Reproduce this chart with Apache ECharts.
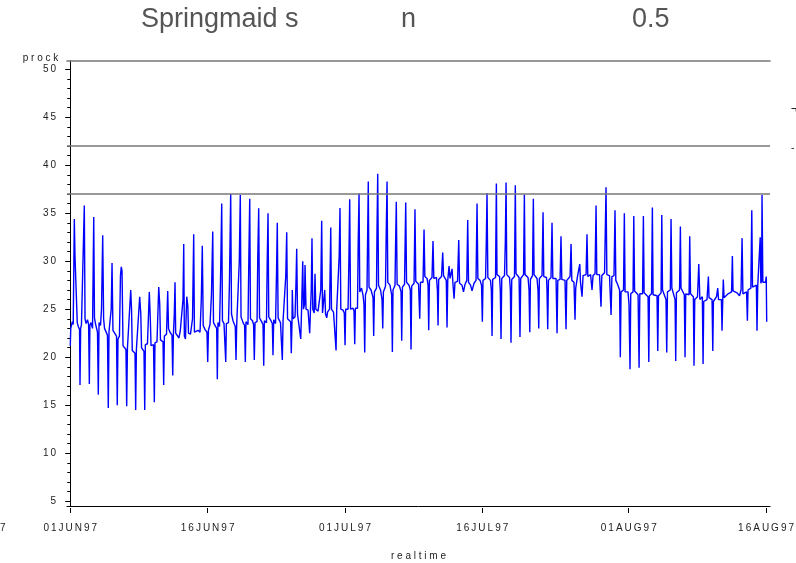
<!DOCTYPE html>
<html>
<head>
<meta charset="utf-8">
<script src="https://cdn.jsdelivr.net/npm/echarts@6/dist/echarts.min.js"></script>
<style>
  html, body { margin: 0; padding: 0; background: #ffffff; }
  #chart { width: 796px; height: 563px; }
</style>
</head>
<body>
<div id="chart"></div>
<script>
// Rock temperature record, Springmaid pier, summer 1997.
// Each point: [days since 01JUN97 00:00, prock].
const junePoints = [
  [0.00,21.2],[0.05,23.0],[0.13,23.2],[0.22,23.7],[0.32,23.4],[0.44,34.4],[0.51,30.6],[0.76,23.6],[0.87,23.2],
  [1.01,22.9],[1.06,17.1],[1.13,23.0],[1.22,23.4],[1.39,23.6],[1.53,35.8],[1.61,24.0],[1.72,23.5],[1.88,23.9],
  [2.00,23.4],[2.08,17.2],[2.14,23.3],[2.26,23.6],[2.43,23.0],[2.56,34.6],[2.64,24.1],[2.75,23.5],[2.97,22.6],
  [3.06,16.1],[3.14,23.6],[3.30,23.3],[3.41,25.0],[3.54,32.7],[3.64,24.0],[3.74,23.0],[3.90,23.2],[4.06,22.3],
  [4.15,14.7],[4.23,22.7],[4.39,22.6],[4.47,25.0],[4.56,29.8],[4.66,22.8],[4.83,23.0],[5.05,22.2],[5.13,15.0],
  [5.21,21.9],[5.37,22.2],[5.48,28.5],[5.57,29.4],[5.65,29.0],[5.76,21.2],[5.92,21.1],[6.08,20.8],[6.16,14.9],
  [6.24,20.9],[6.41,21.0],[6.60,27.0],[6.69,25.0],[6.77,20.7],[6.96,20.7],[7.07,20.4],[7.14,14.5],[7.22,20.8],
  [7.43,20.9],[7.58,26.3],[7.70,24.5],[7.78,21.0],[7.94,20.9],[8.05,20.6],[8.13,14.5],[8.20,21.3],[8.43,21.4],
  [8.63,26.8],[8.74,24.0],[8.82,21.2],[9.09,21.3],[9.18,15.3],[9.25,21.5],[9.47,21.6],[9.66,27.3],[9.77,25.5],
  [9.85,21.8],[10.13,21.6],[10.20,17.1],[10.28,22.2],[10.51,22.4],[10.64,26.9],[10.73,23.0],[10.89,22.6],
  [11.11,22.3],[11.19,18.1],[11.26,22.3],[11.36,24.5],[11.44,27.8],[11.51,22.5],[11.71,22.3],[11.87,22.0],
  [12.02,22.8],[12.31,26.0],[12.39,31.8],[12.46,22.2],[12.58,21.9],[12.72,26.3],[12.84,25.3],[12.91,22.5],
  [13.13,22.4],[13.35,24.0],[13.48,32.8],[13.56,22.6],[13.73,22.4],[13.95,22.8],[14.17,22.6],[14.31,26.0],
  [14.42,31.6],[14.52,23.3],[14.71,22.9],[14.93,22.6],[15.01,19.5],[15.09,22.8],[15.26,23.4],[15.42,26.5],
  [15.56,33.1],[15.64,23.6],[15.81,23.4],[15.99,23.0],[16.06,17.7],[16.13,23.6],[16.30,23.2],[16.41,28.0],
  [16.54,36.0],[16.62,23.8],[16.79,23.5],[16.90,23.3],[16.98,19.5],[17.05,23.5],[17.28,23.6],[17.39,28.0],
  [17.52,37.0],[17.61,24.5],[17.77,23.8],[18.02,23.2],[18.10,19.7],[18.18,23.5],[18.37,23.4],[18.46,30.0],
  [18.57,36.9],[18.65,24.2],[18.87,23.6],[19.04,23.3],[19.12,19.5],[19.19,23.7],[19.41,23.4],[19.50,30.0],
  [19.60,36.5],[19.68,24.0],[19.90,23.8],[20.02,23.4],[20.10,19.7],[20.18,23.6],[20.40,23.7],[20.48,30.5],
  [20.58,35.5],[20.67,24.1],[20.89,23.7],[21.05,23.4],[21.13,19.1],[21.20,23.8],[21.43,23.6],[21.51,30.0],
  [21.60,35.0],[21.68,24.2],[21.92,23.8],[22.07,23.5],[22.14,20.2],[22.22,23.9],[22.42,23.5],[22.53,29.0],
  [22.61,34.0],[22.70,24.1],[22.96,23.6],[23.08,23.5],[23.16,19.7],[23.24,23.8],[23.45,23.7],[23.54,28.5],
  [23.64,33.0],[23.73,24.0],[24.07,23.7],[24.14,20.4],[24.22,23.8],[24.25,27.0],[24.33,24.0],[24.55,24.2],
  [24.66,28.0],[24.73,31.3],[24.82,24.5],[24.98,24.6],[25.17,21.9],[25.25,24.5],[25.39,30.0],[25.47,25.0],
  [25.58,25.5],[25.64,29.6],[25.75,25.0],[25.97,24.9],[26.15,22.5],[26.23,24.8],[26.32,27.0],[26.40,32.4],
  [26.49,25.0],[26.64,24.6],[26.73,28.7],[26.82,25.0],[27.06,24.8],[27.36,27.0],[27.46,34.2],[27.55,24.6],
  [27.71,24.4],[27.79,27.0],[27.88,24.5],[28.01,24.1],[28.10,24.7],[28.32,25.0],[28.45,33.5],[28.53,25.0],
  [28.75,24.7],[28.95,24.5],[29.03,20.7],[29.10,24.9],[29.30,24.9],[29.37,30.5],[29.46,35.55],[29.55,25.0],
  [29.79,24.9],[29.93,24.6]
];
const julyPoints = [
  [30.01,21.25],[30.08,25.0],[30.34,25.0],[30.43,30.0],[30.52,36.45],[30.61,25.0],[30.88,25.1],[30.99,24.8],
  [31.07,21.35],[31.14,25.1],[31.37,25.1],[31.45,32.0],[31.54,37.05],[31.62,26.8],[31.81,27.2],[31.97,26.5],
  [32.08,25.5],[32.16,20.5],[32.24,26.5],[32.41,27.0],[32.47,32.0],[32.55,38.3],[32.63,27.3],[32.85,27.0],
  [33.07,26.2],[33.14,22.2],[33.22,26.8],[33.45,27.2],[33.50,33.0],[33.58,39.1],[33.67,27.5],[33.89,27.0],
  [34.05,26.0],[34.13,23.0],[34.20,26.8],[34.43,27.4],[34.51,33.0],[34.60,38.3],[34.68,27.8],[34.92,27.5],
  [35.10,26.5],[35.18,20.55],[35.25,27.0],[35.47,27.5],[35.52,31.0],[35.61,36.2],[35.70,27.6],[35.96,27.4],
  [36.13,26.8],[36.20,21.7],[36.28,27.3],[36.51,27.6],[36.56,31.0],[36.64,36.1],[36.73,27.8],[37.00,27.5],
  [37.14,27.0],[37.22,20.8],[37.29,27.4],[37.55,27.7],[37.58,30.0],[37.65,35.4],[37.74,27.9],[38.04,27.6],
  [38.17,24.0],[38.25,27.8],[38.53,27.8],[38.64,33.3],[38.73,28.4],[38.97,28.2],[39.08,27.5],[39.15,22.8],
  [39.23,28.0],[39.51,28.3],[39.62,32.1],[39.71,28.2],[40.00,28.3],[40.10,27.0],[40.17,23.3],[40.24,28.1],
  [40.55,28.4],[40.68,30.9],[40.77,28.5],[41.07,28.0],[41.15,23.1],[41.23,28.0],[41.37,29.5],[41.48,28.2],
  [41.70,29.2],[41.81,27.5],[41.92,26.1],[42.02,27.8],[42.30,27.9],[42.43,32.2],[42.52,27.7],[42.79,27.5],
  [42.95,26.8],[43.12,27.6],[43.31,28.0],[43.41,34.3],[43.50,27.8],[43.72,27.5],[43.88,26.9],[44.10,27.7],
  [44.32,28.0],[44.43,36.0],[44.52,28.2],[44.76,28.0],[44.92,27.5],[45.01,23.7],[45.08,28.0],[45.36,28.2],
  [45.44,32.0],[45.52,37.1],[45.61,28.3],[45.90,28.0],[45.99,27.0],[46.07,22.2],[46.14,28.1],[46.45,28.3],
  [46.54,38.1],[46.61,28.6],[46.89,28.4],[46.97,27.0],[47.05,21.9],[47.13,28.2],[47.43,28.5],[47.52,32.0],
  [47.60,38.2],[47.68,28.6],[47.98,28.3],[48.07,27.0],[48.14,21.5],[48.22,28.1],[48.52,28.4],[48.61,37.9],
  [48.69,28.7],[49.02,28.3],[49.12,22.1],[49.20,28.2],[49.51,28.6],[49.60,36.95],[49.67,28.6],[50.00,28.3],
  [50.11,27.0],[50.19,22.6],[50.26,28.1],[50.49,28.5],[50.58,36.5],[50.66,28.6],[50.98,28.2],[51.09,27.0],
  [51.17,23.0],[51.24,28.2],[51.53,28.5],[51.64,35.1],[51.72,28.4],[52.02,28.3],[52.07,27.0],[52.15,22.9],
  [52.23,28.0],[52.51,28.3],[52.62,34.0],[52.71,28.2],[53.06,28.2],[53.17,22.5],[53.25,28.0],[53.50,28.1],
  [53.60,32.6],[53.69,28.1],[54.04,28.0],[54.15,22.9],[54.23,28.0],[54.59,28.4],[54.70,31.8],[54.78,28.0],
  [55.02,27.8],[55.13,23.9],[55.21,27.2],[55.40,28.4],[55.65,29.7],[55.73,27.8],[55.90,26.3],[56.01,28.5],
  [56.34,28.6],[56.44,32.8],[56.53,28.4],[56.83,28.6],[56.99,27.0],[57.10,28.5],[57.32,28.7],[57.43,35.8],
  [57.51,28.6],[57.81,28.6],[57.97,25.25],[58.06,28.5],[58.36,28.8],[58.52,37.7],[58.61,28.6],[58.90,28.5],
  [59.07,24.4],[59.16,28.4],[59.39,28.5],[59.50,35.3],[59.59,28.0],[59.78,27.6],[60.00,27.0],[60.08,20.0],
  [60.16,26.8],[60.43,27.0],[60.52,35.0],[60.60,26.8],[60.92,26.8]
];
const augustPoints = [
  [61.03,25.5],[61.14,18.75],[61.22,26.6],[61.47,26.8],[61.55,34.7],[61.64,26.9],[62.02,26.5],[62.13,18.9],
  [62.21,26.6],[62.51,26.6],[62.60,34.7],[62.68,26.7],[63.11,26.3],[63.19,19.5],[63.26,26.4],[63.49,26.6],
  [63.58,35.6],[63.66,26.5],[64.09,26.4],[64.17,20.65],[64.25,26.4],[64.53,26.7],[64.61,34.8],[64.69,27.0],
  [65.07,26.0],[65.15,20.5],[65.23,26.8],[65.54,27.0],[65.62,34.4],[65.71,27.2],[66.06,26.0],[66.13,19.6],
  [66.21,26.7],[66.55,27.0],[66.64,33.6],[66.71,27.2],[67.07,26.5],[67.15,20.0],[67.23,26.6],[67.59,26.5],
  [67.66,32.6],[67.75,26.6],[68.06,26.3],[68.13,19.1],[68.21,26.0],[68.51,26.3],[68.65,29.7],[68.77,26.0],
  [69.04,26.3],[69.12,19.3],[69.19,25.8],[69.55,26.0],[69.70,28.4],[69.77,26.2],[70.10,26.0],[70.18,20.65],
  [70.25,25.8],[70.59,26.3],[70.72,27.2],[70.81,26.0],[71.12,26.0],[71.19,22.75],[71.27,26.0],[71.33,28.1],
  [71.41,26.2],[71.85,26.6],[72.23,26.8],[72.32,30.55],[72.39,26.9],[72.83,26.7],[73.10,26.4],[73.27,27.0],
  [73.38,32.4],[73.47,26.6],[73.87,26.8],[73.96,23.8],[74.03,27.0],[74.34,27.2],[74.44,35.3],[74.52,27.3],
  [74.94,27.5],[75.01,22.75],[75.09,27.4],[75.30,27.6],[75.36,32.5],[75.43,27.7],[75.51,28.0],[75.56,36.9],
  [75.65,27.8],[75.94,27.8],[76.02,28.4],[76.07,23.7]
];

// Axis ticks and labels
const xTickDays = [0, 15, 30, 45, 61, 76];
const xTickLabels = ['01JUN97', '16JUN97', '01JUL97', '16JUL97', '01AUG97', '16AUG97'];
const yTickValues = [5, 10, 15, 20, 25, 30, 35, 40, 45, 50];
const referenceLevels = [42, 37];

const X_MIN = -0.36, X_MAX = 76.43;
const Y_MIN = 4.5, Y_MAX = 50.85;

const yMinorTicks = [];
for (let v = 5; v <= 50; v++) yMinorTicks.push(v);

const spaced = s => String(s).split('').join('\u2009');
const labelFont = 'Liberation Sans';

const chart = echarts.init(document.getElementById('chart'), null, { renderer: 'canvas' });

const allPoints = junePoints.concat(julyPoints, augustPoints);

chart.setOption({
  animation: false,
  backgroundColor: '#ffffff',
  title: [
    { text: 'Springmaid s', left: 136, top: 1, textStyle: { fontFamily: labelFont, fontSize: 27, fontWeight: 'normal', color: '#555' } },
    { text: 'n', left: 396, top: 1, textStyle: { fontFamily: labelFont, fontSize: 27, fontWeight: 'normal', color: '#555' } },
    { text: '0.5', left: 627, top: 1, textStyle: { fontFamily: labelFont, fontSize: 27, fontWeight: 'normal', color: '#555' } }
  ],
  grid: { left: 67, right: 26, top: 61, bottom: 57, show: false, containLabel: false, outerBoundsMode: 'none' },
  xAxis: [
    {
      type: 'value', min: X_MIN, max: X_MAX, position: 'bottom',
      axisLine: { show: true, lineStyle: { color: '#000', width: 1 } },
      axisTick: { show: false }, axisLabel: { show: false }, splitLine: { show: false }
    },
    {
      type: 'value', min: X_MIN, max: X_MAX, position: 'bottom', offset: 2,
      axisLine: { show: false },
      axisTick: { show: true, length: 5, customValues: xTickDays, lineStyle: { color: '#000', width: 1 } },
      axisLabel: {
        show: true, customValues: xTickDays, margin: 15,
        fontFamily: labelFont, fontSize: 10, color: '#222',
        formatter: v => spaced(xTickLabels[xTickDays.indexOf(v)] || '')
      },
      splitLine: { show: false },
      name: 'r e a l t i m e', nameLocation: 'middle', nameGap: 43,
      nameTextStyle: { fontFamily: labelFont, fontSize: 10, color: '#222' }
    },
    {
      type: 'value', min: X_MIN, max: X_MAX, position: 'top',
      axisLine: { show: true, lineStyle: { color: '#777', width: 1.6 } },
      axisTick: { show: false }, axisLabel: { show: false }, splitLine: { show: false }
    }
  ],
  yAxis: [
    {
      type: 'value', min: Y_MIN, max: Y_MAX, position: 'left',
      axisLine: { show: true, lineStyle: { color: '#000', width: 1 } },
      axisTick: { show: true, length: 5, customValues: yTickValues, lineStyle: { color: '#000' } },
      axisLabel: {
        show: true, customValues: yTickValues, margin: 11,
        fontFamily: labelFont, fontSize: 10, color: '#222',
        formatter: v => spaced(v)
      },
      splitLine: { show: false },
      name: 'p r o c k', nameLocation: 'end', nameGap: 3,
      nameTextStyle: { fontFamily: labelFont, fontSize: 10, color: '#222', align: 'right', verticalAlign: 'middle', padding: [0, 12, 0, 0] }
    },
    {
      type: 'value', min: Y_MIN, max: Y_MAX, position: 'left',
      axisLine: { show: false },
      axisTick: { show: true, length: 3, customValues: yMinorTicks, lineStyle: { color: '#000' } },
      axisLabel: { show: false }, splitLine: { show: false }
    },
    {
      type: 'value', min: Y_MIN, max: Y_MAX, position: 'right',
      axisLine: { show: true, lineStyle: { color: '#000', width: 1 } },
      axisTick: { show: false }, axisLabel: { show: false }, splitLine: { show: false }
    }
  ],
  series: [
    {
      name: 'prock', type: 'line', xAxisIndex: 0, yAxisIndex: 0,
      data: allPoints, showSymbol: false, symbol: 'none',
      lineStyle: { color: '#0000ff', width: 1.4 },
      markLine: {
        silent: true, symbol: 'none', animation: false,
        label: { show: false },
        lineStyle: { color: '#777', width: 1.6, type: 'solid' },
        data: referenceLevels.map(v => ({ yAxis: v }))
      }
    }
  ],
  graphic: [
    { type: 'text', left: 0, top: 523, style: { text: '7', font: '10px "Liberation Sans"', fill: '#222' } },
    { type: 'text', left: 791, top: 104, style: { text: '¬', font: '10px "Liberation Sans"', fill: '#222' } },
    { type: 'text', left: 791, top: 143, style: { text: '-', font: '10px "Liberation Sans"', fill: '#222' } }
  ]
});
</script>
</body>
</html>
